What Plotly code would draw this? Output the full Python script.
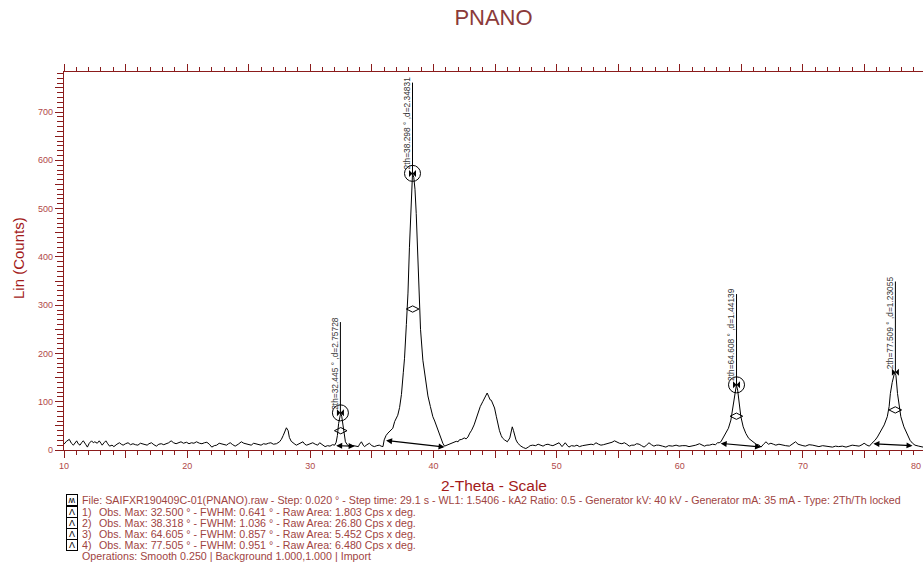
import plotly.graph_objects as go

# ---------------- data ----------------
two_theta = [
    10.0, 10.2, 10.43, 10.6, 10.76, 10.9, 11.03, 11.15, 11.3, 11.45, 11.57, 11.75, 11.9, 12.05, 12.24, 12.38,
    12.5, 12.7, 12.86, 13.0, 13.1, 13.25, 13.4, 13.55, 13.7, 13.9, 14.05, 14.3, 14.5, 14.65, 14.8, 15.0,
    15.2, 15.4, 15.6, 15.8, 16.0, 16.2, 16.4, 16.6, 16.75, 16.9, 17.1, 17.3, 17.5, 17.7, 17.9, 18.1,
    18.3, 18.5, 18.7, 18.9, 19.1, 19.3, 19.5, 19.7, 19.95, 20.15, 20.35, 20.55, 20.76, 21.0, 21.2, 21.4,
    21.6, 21.8, 22.0, 22.2, 22.4, 22.6, 22.8, 23.0, 23.2, 23.35, 23.5, 23.7, 23.9, 24.15, 24.4, 24.6,
    24.8, 25.0, 25.2, 25.4, 25.6, 25.8, 26.0, 26.2, 26.4, 26.6, 26.8, 27.0, 27.25, 27.5, 27.65, 27.8,
    27.95, 28.06, 28.2, 28.3, 28.45, 28.6, 28.75, 28.87, 29.05, 29.2, 29.4, 29.55, 29.7, 29.9, 30.05, 30.2,
    30.4, 30.6, 30.76, 30.95, 31.2, 31.4, 31.6, 31.8, 31.98, 32.1, 32.2, 32.3, 32.4, 32.47, 32.55, 32.65,
    32.75, 32.85, 33.0, 33.15, 33.3, 33.5, 33.7, 33.9, 34.0, 34.15, 34.3, 34.4, 34.6, 34.8, 35.0, 35.2,
    35.4, 35.6, 35.75, 35.9, 36.0, 36.15, 36.3, 36.5, 36.7, 36.85, 37.0, 37.1, 37.25, 37.4, 37.55, 37.65,
    37.8, 37.93, 38.05, 38.2, 38.3, 38.4, 38.5, 38.6, 38.7, 38.82, 38.95, 39.14, 39.3, 39.55, 39.75, 39.95,
    40.1, 40.3, 40.5, 40.65, 40.76, 40.9, 41.1, 41.3, 41.5, 41.7, 41.85, 42.0, 42.1, 42.3, 42.5, 42.65,
    42.8, 42.95, 43.1, 43.3, 43.45, 43.6, 43.8, 44.0, 44.2, 44.36, 44.5, 44.6, 44.7, 44.85, 44.96, 45.1,
    45.2, 45.36, 45.5, 45.6, 45.77, 45.9, 46.0, 46.2, 46.3, 46.4, 46.5, 46.6, 46.7, 46.85, 47.0, 47.1,
    47.3, 47.5, 47.7, 47.85, 48.06, 48.3, 48.5, 48.7, 48.9, 49.1, 49.3, 49.5, 49.7, 49.95, 50.2, 50.44,
    50.7, 50.85, 51.0, 51.2, 51.45, 51.65, 51.85, 52.1, 52.4, 52.6, 52.8, 53.0, 53.2, 53.4, 53.6, 53.8,
    54.0, 54.3, 54.5, 54.7, 54.9, 55.1, 55.3, 55.5, 55.7, 55.9, 56.1, 56.3, 56.5, 56.7, 56.9, 57.1,
    57.3, 57.5, 57.7, 57.9, 58.1, 58.3, 58.6, 58.87, 59.1, 59.4, 59.7, 59.95, 60.2, 60.5, 60.75, 61.0,
    61.3, 61.6, 61.8, 62.0, 62.2, 62.4, 62.66, 62.9, 63.07, 63.2, 63.34, 63.5, 63.74, 63.95, 64.15, 64.3,
    64.4, 64.5, 64.6, 64.7, 64.77, 64.87, 64.96, 65.15, 65.37, 65.6, 65.9, 66.2, 66.45, 66.6, 66.8, 67.0,
    67.2, 67.4, 67.6, 67.8, 68.05, 68.3, 68.6, 68.9, 69.15, 69.4, 69.6, 69.8, 70.0, 70.2, 70.5, 70.8,
    71.05, 71.3, 71.6, 71.86, 72.1, 72.4, 72.65, 72.9, 73.2, 73.5, 73.75, 74.0, 74.3, 74.56, 74.8, 74.97,
    75.2, 75.4, 75.6, 75.85, 76.05, 76.3, 76.6, 76.85, 77.0, 77.1, 77.25, 77.45, 77.55, 77.68, 77.8, 77.95,
    78.2, 78.5, 78.7, 78.9, 79.1, 79.4, 79.75,
]
counts = [
    12, 18, 22, 14, 10, 15, 19, 13, 10, 16, 19, 12, 6, 14, 19, 15,
    17, 14, 19, 14, 10, 15, 19, 13, 8, 10, 7, 12, 15, 12, 10, 13,
    15, 11, 13, 11, 10, 14, 13, 11, 10, 13, 15, 11, 8, 12, 13, 11,
    13, 15, 19, 15, 13, 15, 17, 14, 16, 13, 15, 14, 17, 14, 13, 15,
    16, 12, 6, 9, 10, 14, 13, 11, 10, 13, 15, 11, 8, 12, 17, 14,
    13, 11, 10, 14, 13, 11, 10, 13, 12, 14, 15, 12, 13, 17, 22, 30,
    42, 46, 40, 26, 18, 14, 12, 10, 13, 15, 17, 12, 10, 12, 14, 15,
    12, 10, 15, 11, 7, 9, 8, 11, 10, 16, 30, 55, 72, 77, 70, 50,
    30, 17, 11, 8, 10, 9, 8, 7, 12, 17, 10, 7, 11, 14, 9, 7,
    9, 10, 8, 7, 21, 30, 35, 40, 45, 59, 66, 72, 88, 115, 160, 190,
    260, 325, 420, 532, 573, 565, 540, 490, 410, 325, 250, 186, 155, 112, 90, 69,
    60, 45, 32, 20, 14, 8, 10, 12, 14, 15, 18, 17, 21, 22, 25, 23,
    27, 35, 41, 52, 63, 76, 90, 100, 110, 118, 110, 104, 103, 95, 87, 70,
    56, 40, 30, 25, 21, 18, 17, 25, 38, 48, 40, 28, 21, 14, 10, 8,
    5, 3, 6, 9, 10, 9, 12, 10, 8, 11, 12, 10, 9, 12, 15, 7,
    15, 10, 6, 9, 8, 10, 7, 9, 10, 11, 12, 11, 15, 12, 10, 11,
    12, 14, 16, 19, 16, 14, 13, 15, 12, 8, 10, 10, 13, 12, 9, 6,
    10, 15, 11, 8, 10, 10, 8, 6, 9, 8, 10, 8, 9, 9, 7, 8,
    10, 13, 10, 8, 10, 10, 12, 11, 15, 15, 17, 24, 34, 45, 62, 88,
    110, 128, 135, 124, 110, 90, 69, 48, 34, 24, 17, 12, 10, 6, 12, 17,
    12, 14, 12, 10, 12, 10, 9, 8, 12, 17, 12, 10, 9, 8, 11, 10,
    8, 7, 9, 8, 7, 6, 8, 7, 8, 6, 8, 10, 9, 8, 11, 14,
    10, 8, 14, 20, 27, 38, 52, 69, 90, 117, 140, 161, 155, 117, 90, 69,
    48, 31, 20, 14, 10, 8, 6,
]

# identified peaks
peak_2th = [32.445, 38.298, 64.608, 77.509]
peak_cts = [77, 573, 135, 161]
peak_d = [2.75728, 2.34831, 1.44139, 1.23055]
peak_circled = [True, True, True, False]
fwhm_cts = [40, 292, 70, 83]
fwhm_2th = [32.47, 38.31, 64.6, 77.5]
base_left_2th = [31.98, 36.03, 63.2, 75.6]
base_left_cts = [9, 20, 14, 13]
base_right_2th = [33.6, 40.9, 66.6, 78.9]
base_right_cts = [8, 6, 6, 9]
stick_len = 188

x_tickvals = [10, 15, 20, 25, 30, 35, 40, 45, 50, 55, 60, 65, 70, 75]
x_ticktext = ["10", "", "20", "", "30", "", "40", "", "50", "", "60", "", "70", ""]
y_tickvals = [0, 50, 100, 150, 200, 250, 300, 350, 400, 450, 500, 550, 600, 650, 700, 750]
y_ticktext = ["0", "", "100", "", "200", "", "300", "", "400", "", "500", "", "600", "", "700", ""]
x_last_label = "80"
x_range = [10, 79.75]
y_range = [0, 783]

title_text = "PNANO"
x_title = "2-Theta - Scale"
y_title = "Lin (Counts)"
file_line = ("File: SAIFXR190409C-01(PNANO).raw - Step: 0.020 \u00b0 - Step time: 29.1 s - WL1: 1.5406 - "
             "kA2 Ratio: 0.5 - Generator kV: 40 kV - Generator mA: 35 mA - Type: 2Th/Th locked")
peak_lines = [
    "Obs. Max: 32.500 \u00b0 - FWHM: 0.641 \u00b0 - Raw Area: 1.803 Cps x deg.",
    "Obs. Max: 38.318 \u00b0 - FWHM: 1.036 \u00b0 - Raw Area: 26.80 Cps x deg.",
    "Obs. Max: 64.605 \u00b0 - FWHM: 0.857 \u00b0 - Raw Area: 5.452 Cps x deg.",
    "Obs. Max: 77.505 \u00b0 - FWHM: 0.951 \u00b0 - Raw Area: 6.480 Cps x deg.",
]
ops_line = "Operations: Smooth 0.250 | Background 1.000,1.000 | Import"

# ---------------- styling ----------------
W, H = 923, 562
ML, MR, MT, MB = 64, 0, 72, 112
PW, PH = W - ML - MR, H - MT - MB
AXC = "#8B1C1C"
TICKC = "#B04848"
TITLEC = "#8B3A3A"
LABC = "#A31A1A"
FOOTC = "#A0443F"
FONT = "Arial, Liberation Sans, sans-serif"
FOOTSIZE = 10.7


def px(xp):
    return (xp - ML) / PW


def py(yp):
    return (H - MB - yp) / PH


fig = go.Figure()

fig.add_trace(go.Scatter(x=two_theta, y=counts, mode="lines",
                         line=dict(color="black", width=1), hoverinfo="skip"))

# sticks
sx, sy = [], []
for p, c in zip(peak_2th, peak_cts):
    sx += [p, p, None]
    sy += [c, c + stick_len, None]
fig.add_trace(go.Scatter(x=sx, y=sy, mode="lines", line=dict(color="black", width=1), hoverinfo="skip"))

# circles around peaks
cx = [p for p, k in zip(peak_2th, peak_circled) if k]
cy = [c for c, k in zip(peak_cts, peak_circled) if k]
fig.add_trace(go.Scatter(x=cx, y=cy, mode="markers",
                         marker=dict(symbol="circle-open", size=16, color="black", line=dict(width=1)),
                         hoverinfo="skip"))
# peak top markers
fig.add_trace(go.Scatter(x=peak_2th, y=peak_cts, mode="markers",
                         marker=dict(symbol="bowtie", size=7, color="black"), hoverinfo="skip"))
# fwhm markers
fig.add_trace(go.Scatter(x=fwhm_2th, y=fwhm_cts, mode="markers",
                         marker=dict(symbol="diamond-wide-open", size=9, color="black", line=dict(width=1)),
                         hoverinfo="skip"))


def paper_text(xp, yp, text, size, color, xanchor="left", **kw):
    return dict(x=px(xp), y=py(yp), xref="paper", yref="paper", text=text, showarrow=False,
                xanchor=xanchor, yanchor="middle", font=dict(family=FONT, size=size, color=color), **kw)


ann = []
# base arrows
for xl, yl, xr, yr in zip(base_left_2th, base_left_cts, base_right_2th, base_right_cts):
    ann.append(dict(x=xr, y=yr, ax=xl, ay=yl, xref="x", yref="y", axref="x", ayref="y",
                    text="", showarrow=True, arrowhead=2, arrowside="end+start",
                    arrowsize=1, arrowwidth=1.2, arrowcolor="black", standoff=0, startstandoff=0))
# peak labels
for p, c, d in zip(peak_2th, peak_cts, peak_d):
    ann.append(dict(x=p, y=c + stick_len * 0.55, xref="x", yref="y", xanchor="center", yanchor="middle",
                    text=f"2th={p:.3f} \u00b0 ,d={d:.5f}", textangle=-90, showarrow=False,
                    xshift=-5.5, font=dict(family="Liberation Sans Narrow, Arial Narrow, Arial, sans-serif",
                                           size=8.4, color="#333333")))
# last tick label, kept inside the page edge
ann.append(dict(x=1.0, y=py(466), xref="paper", yref="paper",
                xanchor="right", yanchor="middle",
                text=x_last_label, showarrow=False, font=dict(family=FONT, size=9, color=TICKC)))
# axis titles
ann.append(dict(x=0.5, y=py(485), xref="paper", yref="paper", text=x_title, showarrow=False,
                xanchor="center", yanchor="middle", font=dict(family=FONT, size=15.5, color=LABC)))
ann.append(dict(x=px(18), y=py(258), xref="paper", yref="paper", text=y_title, showarrow=False,
                xanchor="center", yanchor="middle",
                textangle=-90, font=dict(family=FONT, size=15, color=LABC)))
# footer
line_ys = [500, 511.5, 522.5, 534, 545, 556]
ann.append(paper_text(72, line_ys[0], "\u028d", 9, "black", xanchor="center", bordercolor="black",
                      borderwidth=1, borderpad=0, bgcolor="white", width=10, height=10))
ann.append(paper_text(80, line_ys[0], file_line, FOOTSIZE, FOOTC))
for i, t in enumerate(peak_lines):
    ann.append(paper_text(72, line_ys[i + 1], "\u039b", 9, "black", xanchor="center", bordercolor="black",
                          borderwidth=1, borderpad=0, bgcolor="white", width=10, height=10))
    ann.append(paper_text(80, line_ys[i + 1], f"{i + 1})", FOOTSIZE, FOOTC))
    ann.append(paper_text(97, line_ys[i + 1], t, FOOTSIZE, FOOTC))
ann.append(paper_text(80, line_ys[5], ops_line, FOOTSIZE, FOOTC))

fig.update_layout(
    width=W, height=H,
    margin=dict(l=ML, r=MR, t=MT, b=MB, pad=0),
    paper_bgcolor="white", plot_bgcolor="white",
    showlegend=False,
    title=dict(text=title_text, x=0.5, xref="paper", xanchor="center", y=1 - 17 / H, yanchor="middle",
               font=dict(family=FONT, size=22, color=TITLEC)),
    annotations=ann,
    xaxis=dict(range=x_range, showgrid=False, zeroline=False, showline=True, linecolor=AXC, linewidth=1.2,
               mirror="ticks", ticks="outside", ticklen=7, tickwidth=1, tickcolor=AXC,
               tickvals=x_tickvals, ticktext=x_ticktext,
               tickfont=dict(family=FONT, size=9, color=TICKC),
               minor=dict(dtick=1, tick0=10, ticklen=4, tickwidth=1, tickcolor=AXC, ticks="outside", showgrid=False)),
    yaxis=dict(range=y_range, showgrid=False, zeroline=False, showline=True, linecolor=AXC, linewidth=1.2,
               ticks="outside", ticklen=8, tickwidth=1, tickcolor=AXC,
               tickvals=y_tickvals, ticktext=y_ticktext,
               tickfont=dict(family=FONT, size=9, color=TICKC),
               minor=dict(dtick=10, tick0=0, ticklen=6, tickwidth=1, tickcolor=AXC, ticks="outside", showgrid=False)),
)

fig.write_html("out.html")
